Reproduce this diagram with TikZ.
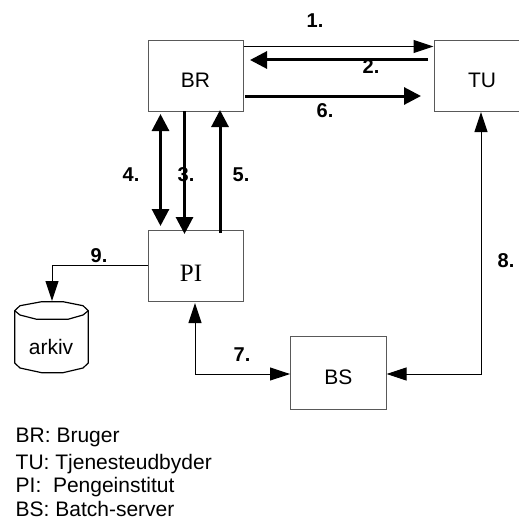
\documentclass[tikz,border=0pt]{standalone}
\usepackage{fontspec}
\setmainfont{Liberation Sans}
\newfontfamily\serifpi{Liberation Serif}
\usetikzlibrary{arrows.meta}
\tikzset{
  box/.style={draw=black!65,line width=1pt,inner sep=0pt,text height=22.6pt,text depth=0pt,font=\fontsize{21}{25}\selectfont},
  thin line/.style={line width=1pt,draw=black},
  thick line/.style={line width=3pt,draw=black},
  tipa/.tip={Triangle[length=20pt,width=13pt]},
  tipb/.tip={Triangle[length=17pt,width=17pt]},
  num/.style={font=\fontsize{20}{24}\selectfont\bfseries,inner sep=0pt},
  legend/.style={anchor=base west,font=\fontsize{21}{25}\selectfont,inner sep=0pt},
}
\begin{document}
\begin{tikzpicture}[x=1pt,y=-1pt]
\useasboundingbox (0,0) rectangle (519,519);
\node[box,minimum width=95pt,minimum height=70pt] (br) at (195.5,76) {BR};
\node[box,minimum width=96pt,minimum height=70pt,anchor=west] (tu) at (433.5,76) {TU};
\node[box,minimum width=95pt,minimum height=71pt,text height=32.4pt,font=\fontsize{25}{29}\selectfont\serifpi] (pi) at (195.5,265.5) {\hspace{-9pt}PI};
\node[box,minimum width=95.5pt,minimum height=72.5pt] (bs) at (338.3,373) {BS};
% archive cylinder
\draw[line width=1.2pt,fill=white] (14.7,310.7)
  -- (20,305.7) -- (41.7,301.7) -- (63,301.7) -- (83,305.7) -- (88.3,310.7)
  -- (88.3,363) -- (83,368) -- (63,372.7) -- (41.7,372.7) -- (20,368) -- (14.7,363) -- cycle;
\draw[line width=1.2pt] (14.7,310.7) -- (20,315) -- (36.7,319.3) -- (68,319.3) -- (83,315) -- (88.3,310.7);
\node[font=\fontsize{21}{25}\selectfont,inner sep=0pt] (arkiv) at (51,347) {arkiv};
\coordinate (cyltop) at (52,301);
% connectors
\coordinate (a1) at (br.east |- 0,46.5);
\coordinate (b1) at (tu.west |- 0,46.5);
\draw[thin line,-{tipa}] (a1) -- (b1);
\coordinate (a2) at (428,60);
\coordinate (b2) at (250,60);
\draw[thick line,-{tipb}] (a2) -- (b2);
\coordinate (a6) at (245,96);
\coordinate (b6) at (421,96);
\draw[thick line,-{tipb}] (a6) -- (b6);
\coordinate (a4) at (160.5,114);
\coordinate (b4) at (160.5,226);
\draw[thick line,{tipb}-{tipb}] (a4) -- (b4);
\coordinate (a3) at (184.5,111);
\coordinate (b3) at (184.5,234);
\draw[thick line,-{tipb}] (a3) -- (b3);
\coordinate (a5) at (220,233);
\coordinate (b5) at (220,110);
\draw[thick line,-{tipb}] (a5) -- (b5);
\draw[thin line,-{tipa}] (pi.west) -- (52,265.5) -- (cyltop);
\coordinate (p7) at (195,303);
\draw[thin line,{tipa}-{tipa}] (p7) -- (195,374) -- (bs.west |- 0,374);
\coordinate (t8) at (481,112);
\draw[thin line,{tipa}-{tipa}] (t8) -- (481,374) -- (bs.east |- 0,374);
% labels
\node[num] (n1) at (315,21) {1.};
\node[num] (n2) at (371,67) {2.};
\node[num] (n6) at (325,111) {6.};
\node[num] (n4) at (131,175) {4.};
\node[num] (n3) at (186,175) {3.};
\node[num] (n5) at (241,175) {5.};
\node[num] (n9) at (99,256) {9.};
\node[num] (n7) at (242,355) {7.};
\node[num] (n8) at (506,261) {8.};
% legend
\node[legend] (l1) at (15.5,442.5) {BR: Bruger};
\node[legend] (l2) at (15.5,469) {TU: Tjenesteudbyder};
\node[legend] (l3) at (15.5,492.5) {PI:\ \ Pengeinstitut};
\node[legend] (l4) at (15.5,516.8) {BS: Batch-server};
\end{tikzpicture}
\end{document}
